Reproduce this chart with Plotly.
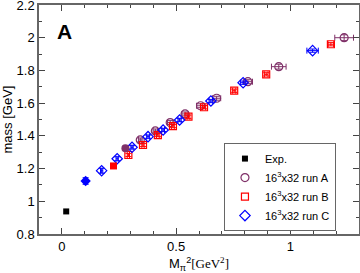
import plotly.graph_objects as go

# Data
exp_x = [0.019]
exp_y = [0.938]

runA_x = [0.343, 0.409, 0.474, 0.539, 0.607, 0.677, 0.814, 0.949, 1.235]
runA_y = [1.375, 1.430, 1.481, 1.534, 1.584, 1.630, 1.731, 1.823, 2.000]
runA_ex = [0.008, 0.010, 0.012, 0.014, 0.018, 0.018, 0.020, 0.032, 0.041]
runA_ey = [0.012, 0.012, 0.012, 0.012, 0.012, 0.012, 0.012, 0.015, 0.018]

runB_x = [0.291, 0.355, 0.420, 0.486, 0.554, 0.622, 0.754, 0.894, 1.177]
runB_y = [1.283, 1.344, 1.405, 1.460, 1.517, 1.575, 1.676, 1.776, 1.960]
runB_ex = [0.005, 0.005, 0.006, 0.006, 0.006, 0.007, 0.007, 0.008, 0.012]
runB_ey = [0.010, 0.010, 0.010, 0.010, 0.010, 0.010, 0.010, 0.010, 0.010]

runC_x = [0.174, 0.242, 0.307, 0.377, 0.443, 0.515, 0.652, 0.793, 1.097]
runC_y = [1.187, 1.260, 1.330, 1.395, 1.436, 1.497, 1.613, 1.725, 1.921]
runC_ex = [0.005, 0.005, 0.005, 0.006, 0.006, 0.007, 0.008, 0.012, 0.025]
runC_ey = [0.015, 0.012, 0.010, 0.010, 0.010, 0.010, 0.010, 0.010, 0.010]

# Filled (extrapolated) points
extA_x, extA_y = [0.278], [1.324]
extB_x, extB_y = [0.226], [1.216]
extC_x, extC_y = [0.104], [1.124]

y_ticks = [0.8, 1.0, 1.2, 1.4, 1.6, 1.8, 2.0, 2.2]
y_ticktext = ["0.8", "1", "1.2", "1.4", "1.6", "1.8", "2", "2.2"]
x_ticks = [0, 0.5, 1]
x_ticktext = ["0", "0.5", "1"]

PURPLE = "#7f3068"
RED = "#ff0000"
BLUE = "#0000ff"
FONT = "Liberation Sans, Arial"

fig = go.Figure()

def err(vals, color):
    return dict(type="data", array=vals, visible=True, color=color, thickness=1, width=3)

fig.add_trace(go.Scatter(x=exp_x, y=exp_y, mode="markers", name="Exp.",
                         marker=dict(symbol="square", size=6, color="black")))
fig.add_trace(go.Scatter(x=runA_x, y=runA_y, mode="markers", name="16<sup>3</sup>x32 run A",
                         marker=dict(symbol="circle-open", size=8, color=PURPLE, line=dict(width=1.2)),
                         error_x=err(runA_ex, PURPLE), error_y=err(runA_ey, PURPLE)))
fig.add_trace(go.Scatter(x=runB_x, y=runB_y, mode="markers", name="16<sup>3</sup>x32 run B",
                         marker=dict(symbol="square-open", size=7, color=RED, line=dict(width=1.2)),
                         error_x=err(runB_ex, RED), error_y=err(runB_ey, RED)))
fig.add_trace(go.Scatter(x=runC_x, y=runC_y, mode="markers", name="16<sup>3</sup>x32 run C",
                         marker=dict(symbol="diamond-open", size=8, color=BLUE, line=dict(width=1.2)),
                         error_x=err(runC_ex, BLUE), error_y=err(runC_ey, BLUE)))
fig.add_trace(go.Scatter(x=extA_x, y=extA_y, mode="markers", showlegend=False,
                         marker=dict(symbol="circle", size=8, color=PURPLE),
                         error_y=err([0.012], PURPLE)))
fig.add_trace(go.Scatter(x=extB_x, y=extB_y, mode="markers", showlegend=False,
                         marker=dict(symbol="square", size=7, color=RED),
                         error_y=err([0.010], RED)))
fig.add_trace(go.Scatter(x=extC_x, y=extC_y, mode="markers", showlegend=False,
                         marker=dict(symbol="diamond", size=8, color=BLUE),
                         error_y=err([0.020], BLUE)))

axis_common = dict(showgrid=False, zeroline=False, showline=True, linecolor="#666666", linewidth=1.5,
                   mirror="allticks", ticks="inside", ticklen=6, tickcolor="#444444", tickwidth=1,
                   automargin=False, ticklabeloverflow="allow",
                   tickfont=dict(family=FONT, size=13, color="black"))

fig.update_xaxes(range=[-0.1, 1.3], tickvals=x_ticks, ticktext=x_ticktext,
                 minor=dict(dtick=0.1, tick0=0, ticks="inside", ticklen=3, tickcolor="#444444", showgrid=False),
                 title=dict(text="M<sub>π</sub><sup>2</sup><span style='font-family:Liberation Serif'>[GeV<sup>2</sup>]</span>",
                            font=dict(family=FONT, size=13, color="black")),
                 **axis_common)
fig.update_yaxes(range=[0.8, 2.2], tickvals=y_ticks, ticktext=y_ticktext,
                 minor=dict(dtick=0.1, tick0=0.8, ticks="inside", ticklen=3, tickcolor="#444444", showgrid=False),
                 title=dict(text="mass [GeV]", font=dict(family=FONT, size=13, color="black")),
                 **axis_common)

fig.add_annotation(x=0.05, y=0.945, xref="paper", yref="paper", text="<b>A</b>", showarrow=False,
                   xanchor="left", yanchor="top", font=dict(family=FONT, size=21, color="black"))

fig.update_layout(width=360, height=273, margin=dict(l=39, r=1, t=5, b=39),
                  plot_bgcolor="white", paper_bgcolor="white",
                  legend=dict(x=0.928, y=0.397, xanchor="right", yanchor="top",
                              bordercolor="#666666", borderwidth=1, bgcolor="white",
                              font=dict(family=FONT, size=11, color="black"),
                              itemwidth=30, tracegroupgap=0))

fig.write_html("out.html", config={"displayModeBar": False},
               post_script="document.body.style.margin='0';")
